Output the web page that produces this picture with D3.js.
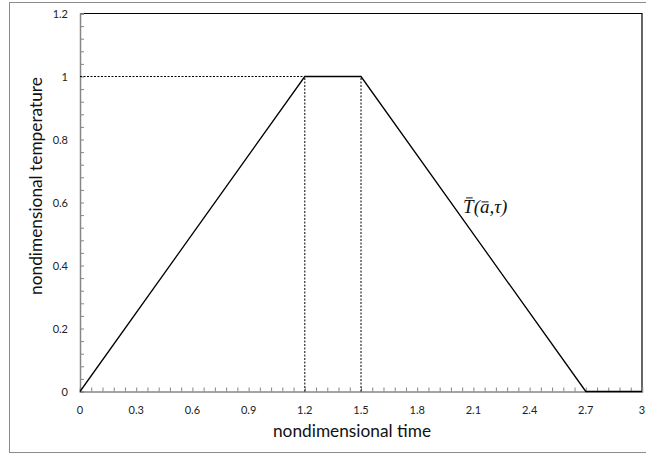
<!DOCTYPE html>
<html>
<head>
<meta charset="utf-8">
<script src="https://cdn.jsdelivr.net/npm/d3@7"></script>
<style>
  html, body { margin: 0; padding: 0; background: #fff; }
  svg { display: block; }
  .tick-label { font-family: Lato, "Open Sans", sans-serif; font-size: 11px; fill: #222; }
  .axis-title { font-family: Lato, "Open Sans", sans-serif; font-size: 17.3px; fill: #111; }
</style>
</head>
<body>
<svg id="chart" width="646" height="454"></svg>
<script>
// Trapezoidal temperature profile over nondimensional time
const timePoints = [0, 1.2, 1.5, 2.7, 3];
const temperatureValues = [0, 1, 1, 0, 0];

const xTickValues = [0, 0.3, 0.6, 0.9, 1.2, 1.5, 1.8, 2.1, 2.4, 2.7, 3];
const xTickLabels = ["0", "0.3", "0.6", "0.9", "1.2", "1.5", "1.8", "2.1", "2.4", "2.7", "3"];
const yTickValues = [0, 0.2, 0.4, 0.6, 0.8, 1, 1.2];
const yTickLabels = ["0", "0.2", "0.4", "0.6", "0.8", "1", "1.2"];

// Guide lines marking where the plateau starts and ends
const plateauStart = 1.2;
const plateauEnd = 1.5;
const plateauLevel = 1;

// Curve label anchor (data coordinates)
const curveLabelAt = [2.045, 0.567];

const svg = d3.select("#chart");
const W = 646, H = 454;
const margin = { left: 80, right: 4, top: 13.5, bottom: 62.5 };

const x = d3.scaleLinear().domain([0, 3]).range([margin.left, W - margin.right]);
const y = d3.scaleLinear().domain([0, 1.2]).range([H - margin.bottom, margin.top]);

// outer frame
svg.append("rect")
  .attr("x", 9.5).attr("y", 2.5)
  .attr("width", 700).attr("height", 450)
  .attr("fill", "none").attr("stroke", "#8c8c8c").attr("stroke-width", 1);

// plot box: top and right edges
svg.append("path")
  .attr("d", `M${x(0)},${y(1.2)}H${x(3)}V${y(0)}`)
  .attr("fill", "none").attr("stroke", "#000").attr("stroke-width", 1.2);

// minor + major ticks (all inside, same length)
const xMinor = d3.range(0, 3.0001, 0.06);
const yMinor = d3.range(0, 1.2001, 0.04);

const xAxis = d3.axisBottom(x).tickValues(xMinor).tickSize(-4).tickFormat("");
const yAxis = d3.axisLeft(y).tickValues(yMinor).tickSize(-4).tickFormat("");

const gx = svg.append("g").attr("transform", `translate(0,${y(0)})`).call(xAxis);
const gy = svg.append("g").attr("transform", `translate(${x(0)},0)`).call(yAxis);
[gx, gy].forEach(g => {
  g.select(".domain").attr("stroke", "#868686").attr("stroke-width", 1.5);
  g.selectAll(".tick line").attr("stroke", "#868686").attr("stroke-width", 1);
});

// tick labels
svg.append("g").selectAll("text").data(xTickValues).join("text")
  .attr("class", "tick-label")
  .attr("x", d => x(d)).attr("y", y(0) + 22)
  .attr("text-anchor", "middle")
  .text((d, i) => xTickLabels[i]);

svg.append("g").selectAll("text").data(yTickValues).join("text")
  .attr("class", "tick-label")
  .attr("x", x(0) - 12).attr("y", d => y(d) + 4)
  .attr("text-anchor", "end")
  .text((d, i) => yTickLabels[i]);

// dashed guide lines
const guides = [
  [[0, plateauLevel], [plateauStart, plateauLevel]],
  [[plateauStart, 0], [plateauStart, plateauLevel]],
  [[plateauEnd, 0], [plateauEnd, plateauLevel]]
];
svg.append("g").selectAll("line").data(guides).join("line")
  .attr("x1", d => x(d[0][0])).attr("y1", d => y(d[0][1]))
  .attr("x2", d => x(d[1][0])).attr("y2", d => y(d[1][1]))
  .attr("stroke", "#000").attr("stroke-width", 1)
  .attr("stroke-dasharray", "2,1.5");

// temperature curve
const line = d3.line().x(d => x(d[0])).y(d => y(d[1]));
svg.append("path")
  .datum(timePoints.map((t, i) => [t, temperatureValues[i]]))
  .attr("d", line)
  .attr("fill", "none").attr("stroke", "#000").attr("stroke-width", 1.3);

// curve label: T(a,τ) with bars drawn over T and a
const label = svg.append("text")
  .attr("x", x(curveLabelAt[0])).attr("y", y(curveLabelAt[1]))
  .attr("font-family", "'Liberation Serif', 'DejaVu Serif', serif")
  .attr("font-style", "italic")
  .attr("font-size", 19)
  .attr("fill", "#111")
  .text("T(a,\u03C4)");
const node = label.node();
[0, 2].forEach(i => {
  const ext = node.getExtentOfChar(i);
  const inset = i === 0 ? 1.5 : 1;
  svg.append("line")
    .attr("x1", ext.x + inset + (i === 0 ? 1.5 : 0.5)).attr("x2", ext.x + ext.width - inset + (i === 0 ? 0.5 : 0))
    .attr("y1", i === 0 ? ext.y + 2 : ext.y + 6).attr("y2", i === 0 ? ext.y + 2 : ext.y + 6)
    .attr("stroke", "#111").attr("stroke-width", 1);
});

// axis titles
svg.append("text")
  .attr("class", "axis-title")
  .attr("x", 352).attr("y", 437)
  .attr("text-anchor", "middle")
  .text("nondimensional time");

svg.append("text")
  .attr("class", "axis-title")
  .attr("transform", `translate(42,186) rotate(-90)`)
  .attr("text-anchor", "middle")
  .text("nondimensional temperature");
</script>
</body>
</html>
